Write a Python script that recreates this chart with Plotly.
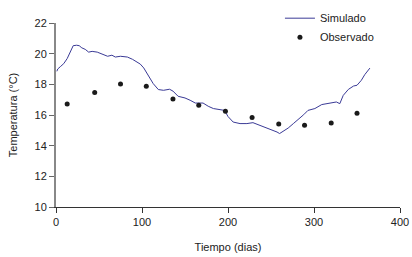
import plotly.graph_objects as go

# Simulated (daily model) readings
sim_day = [1, 2, 5, 9, 13, 17, 20, 24, 27, 30, 34, 38, 42, 48, 54, 60, 65, 69, 75, 83, 89, 95, 98, 102,
           107, 113, 119, 125, 132, 136, 142, 150, 156, 162, 171, 177, 183, 191, 196, 200, 206, 214,
           222, 229, 235, 243, 251, 257, 260, 264, 270, 276, 282, 288, 293, 298, 301, 309, 315, 321,
           326, 330, 334, 340, 346, 350, 355, 359, 363, 365]
sim_val = [18.85, 19.0, 19.15, 19.35, 19.68, 20.2, 20.52, 20.55, 20.52, 20.38, 20.28, 20.1, 20.15, 20.1,
           19.94, 19.83, 19.9, 19.78, 19.83, 19.78, 19.63, 19.46, 19.32, 19.07,
           18.6, 18.05, 17.66, 17.61, 17.68, 17.56, 17.22, 17.11, 16.96, 16.78, 16.78, 16.57, 16.42,
           16.35, 16.3, 15.9, 15.54, 15.44, 15.44, 15.5, 15.37, 15.21, 15.07, 14.89, 14.79, 14.94,
           15.15, 15.44, 15.72, 16.02, 16.3, 16.37, 16.42, 16.68, 16.74, 16.81, 16.85, 16.74, 17.28,
           17.67, 17.89, 17.94, 18.26, 18.63, 18.91, 19.06]

# Observed monthly values
obs_day = [13, 45, 75, 105, 136, 166, 197, 228, 259, 289, 320, 350]
obs_val = [16.72, 17.46, 18.02, 17.87, 17.04, 16.63, 16.24, 15.83, 15.41, 15.33, 15.48, 16.11]

x_ticks = [0, 100, 200, 300, 400]
y_ticks = [10, 12, 14, 16, 18, 20, 22]

fig = go.Figure()
fig.add_trace(go.Scatter(x=sim_day, y=sim_val, mode="lines", name="Simulado",
                         line=dict(color="#3a3a96", width=1)))
fig.add_trace(go.Scatter(x=obs_day, y=obs_val, mode="markers", name="Observado",
                         marker=dict(color="#1a1a1a", size=5)))

fig.update_layout(
    width=412, height=257,
    margin=dict(l=56, r=12, t=23, b=50, autoexpand=False),
    paper_bgcolor="white", plot_bgcolor="white",
    font=dict(family="Liberation Sans, Arial, sans-serif", size=11, color="#222222"),
    showlegend=True,
    legend=dict(x=0.651, y=1.105, xanchor="left", yanchor="top", bgcolor="rgba(0,0,0,0)",
                font=dict(size=11), tracegroupgap=0),
    xaxis=dict(range=[0, 400], tickvals=x_ticks, showgrid=False, zeroline=False,
               showline=True, linecolor="#333333", linewidth=1, automargin=False,
               ticks="outside", ticklen=5, tickcolor="#333333",
               title=dict(text="Tiempo (dias)", font=dict(size=11), standoff=16)),
    yaxis=dict(range=[10, 22], tickvals=y_ticks, showgrid=False, zeroline=False,
               showline=True, linecolor="#888888", linewidth=2, automargin=False,
               ticks="outside", ticklen=5, tickcolor="#666666",
               title=dict(text="Temperatura (°C)", font=dict(size=11), standoff=15)),
)

fig.write_html("out.html", config={"displayModeBar": False},
               post_script="document.body.style.margin='0';")
